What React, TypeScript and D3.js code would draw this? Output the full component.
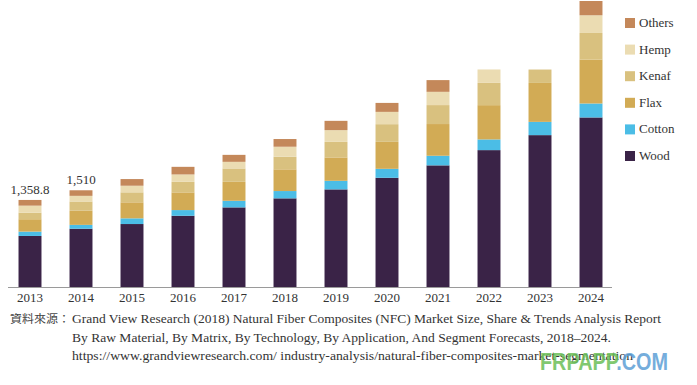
import * as d3 from "d3";

// Natural fiber composites market, by raw material
const years = ["2013", "2014", "2015", "2016", "2017", "2018", "2019", "2020", "2021", "2022", "2023", "2024"];
const wood = [797, 910, 983, 1112, 1243, 1384, 1524, 1705, 1899, 2137, 2371, 2647];
const cotton = [68, 60, 89, 89, 103, 114, 134, 140, 150, 167, 207, 218];
const flax = [193, 220, 250, 276, 296, 339, 365, 421, 495, 535, 608, 686];
const kenaf = [103, 145, 156, 165, 209, 197, 243, 276, 296, 348, 209, 415];
const hemp = [109, 88, 103, 115, 103, 156, 183, 192, 207, 209, 0, 276];
const others = [89, 87, 104, 119, 109, 120, 145, 140, 183, 0, 0, 223];
const topLabels = ["1,358.8", "1,510"];

const seriesNames = ["Wood", "Cotton", "Flax", "Kenaf", "Hemp", "Others"];
const seriesColors = ["#3a2347", "#4bbde6", "#d2ab55", "#d9c17f", "#ebdcb2", "#c4885a"];

const serif = "'Liberation Serif', 'Times New Roman', serif";

export default function App() {
  const width = 697;
  const height = 385;

  const rows = years.map((y, i) => ({
    year: y,
    Wood: wood[i],
    Cotton: cotton[i],
    Flax: flax[i],
    Kenaf: kenaf[i],
    Hemp: hemp[i],
    Others: others[i],
  }));

  const stacked = d3.stack<any>().keys(seriesNames)(rows);

  const x = d3.scaleBand()
    .domain(years)
    .range([4.5, 616.5])
    .paddingInner(0.55)
    .paddingOuter(0.275);

  const y = d3.scaleLinear().domain([0, 4465]).range([287, 1]);

  const color = d3.scaleOrdinal<string>().domain(seriesNames).range(seriesColors);

  // legend is listed top-down from Others to Wood
  const legendItems = [...seriesNames].reverse();

  return (
    <svg width={width} height={height} style={{ position: "absolute", left: 0, top: 0, background: "#fff" }}>
      {stacked.map((layer) => (
        <g key={layer.key} fill={color(layer.key)}>
          {layer.map((d, i) => (
            d[1] - d[0] > 0 ? (
              <rect
                key={i}
                x={x(years[i])}
                y={y(d[1])}
                width={x.bandwidth()}
                height={y(d[0]) - y(d[1])}
              />
            ) : null
          ))}
        </g>
      ))}

      {/* axis line */}
      <line x1={8} x2={612} y1={287.5} y2={287.5} stroke="#9a9a9a" strokeWidth={1} />

      {years.map((yr) => (
        <text
          key={yr}
          x={(x(yr) ?? 0) + x.bandwidth() / 2}
          y={302}
          textAnchor="middle"
          fontFamily={serif}
          fontSize={13}
          fill="#333"
        >
          {yr}
        </text>
      ))}

      {topLabels.map((lab, i) => {
        const total = stacked[stacked.length - 1][i][1];
        return (
          <text
            key={lab}
            x={(x(years[i]) ?? 0) + x.bandwidth() / 2}
            y={y(total) - 6}
            textAnchor="middle"
            fontFamily={serif}
            fontSize={13}
            fill="#333"
          >
            {lab}
          </text>
        );
      })}

      {/* legend */}
      {legendItems.map((name, i) => (
        <g key={name} transform={`translate(625, ${18 + i * 26.6})`}>
          <rect x={0} y={0} width={10} height={10} fill={color(name)} />
          <text x={14} y={9} fontFamily={serif} fontSize={13} fill="#333">{name}</text>
        </g>
      ))}

      {/* source */}
      <text x={10} y={323} fontFamily="'Noto Sans CJK TC', sans-serif" fontSize={11} fill="#444" textLength={60} lengthAdjust="spacingAndGlyphs">
        資料來源：
      </text>
      <text x={72} y={323} fontFamily={serif} fontSize={13} fill="#333" textLength={589} lengthAdjust="spacingAndGlyphs">
        Grand View Research (2018) Natural Fiber Composites (NFC) Market Size, Share &amp; Trends Analysis Report
      </text>
      <text x={72} y={342} fontFamily={serif} fontSize={13} fill="#333" textLength={539} lengthAdjust="spacingAndGlyphs">
        By Raw Material, By Matrix, By Technology, By Application, And Segment Forecasts, 2018–2024.
      </text>
      <text x={72} y={360} fontFamily={serif} fontSize={13} fill="#333" textLength={561} lengthAdjust="spacingAndGlyphs">
        https://www.grandviewresearch.com/ industry-analysis/natural-fiber-composites-market-segmentation
      </text>

      {/* watermark */}
      <text x={540} y={370} fontFamily="'Liberation Sans', Arial, sans-serif" fontSize={23} fontWeight="bold" textLength={128} lengthAdjust="spacingAndGlyphs" opacity={0.85}>
        <tspan fill="#6cbf58">FRPAPP</tspan>
        <tspan fill="#5d9fd6">.COM</tspan>
      </text>
    </svg>
  );
}
